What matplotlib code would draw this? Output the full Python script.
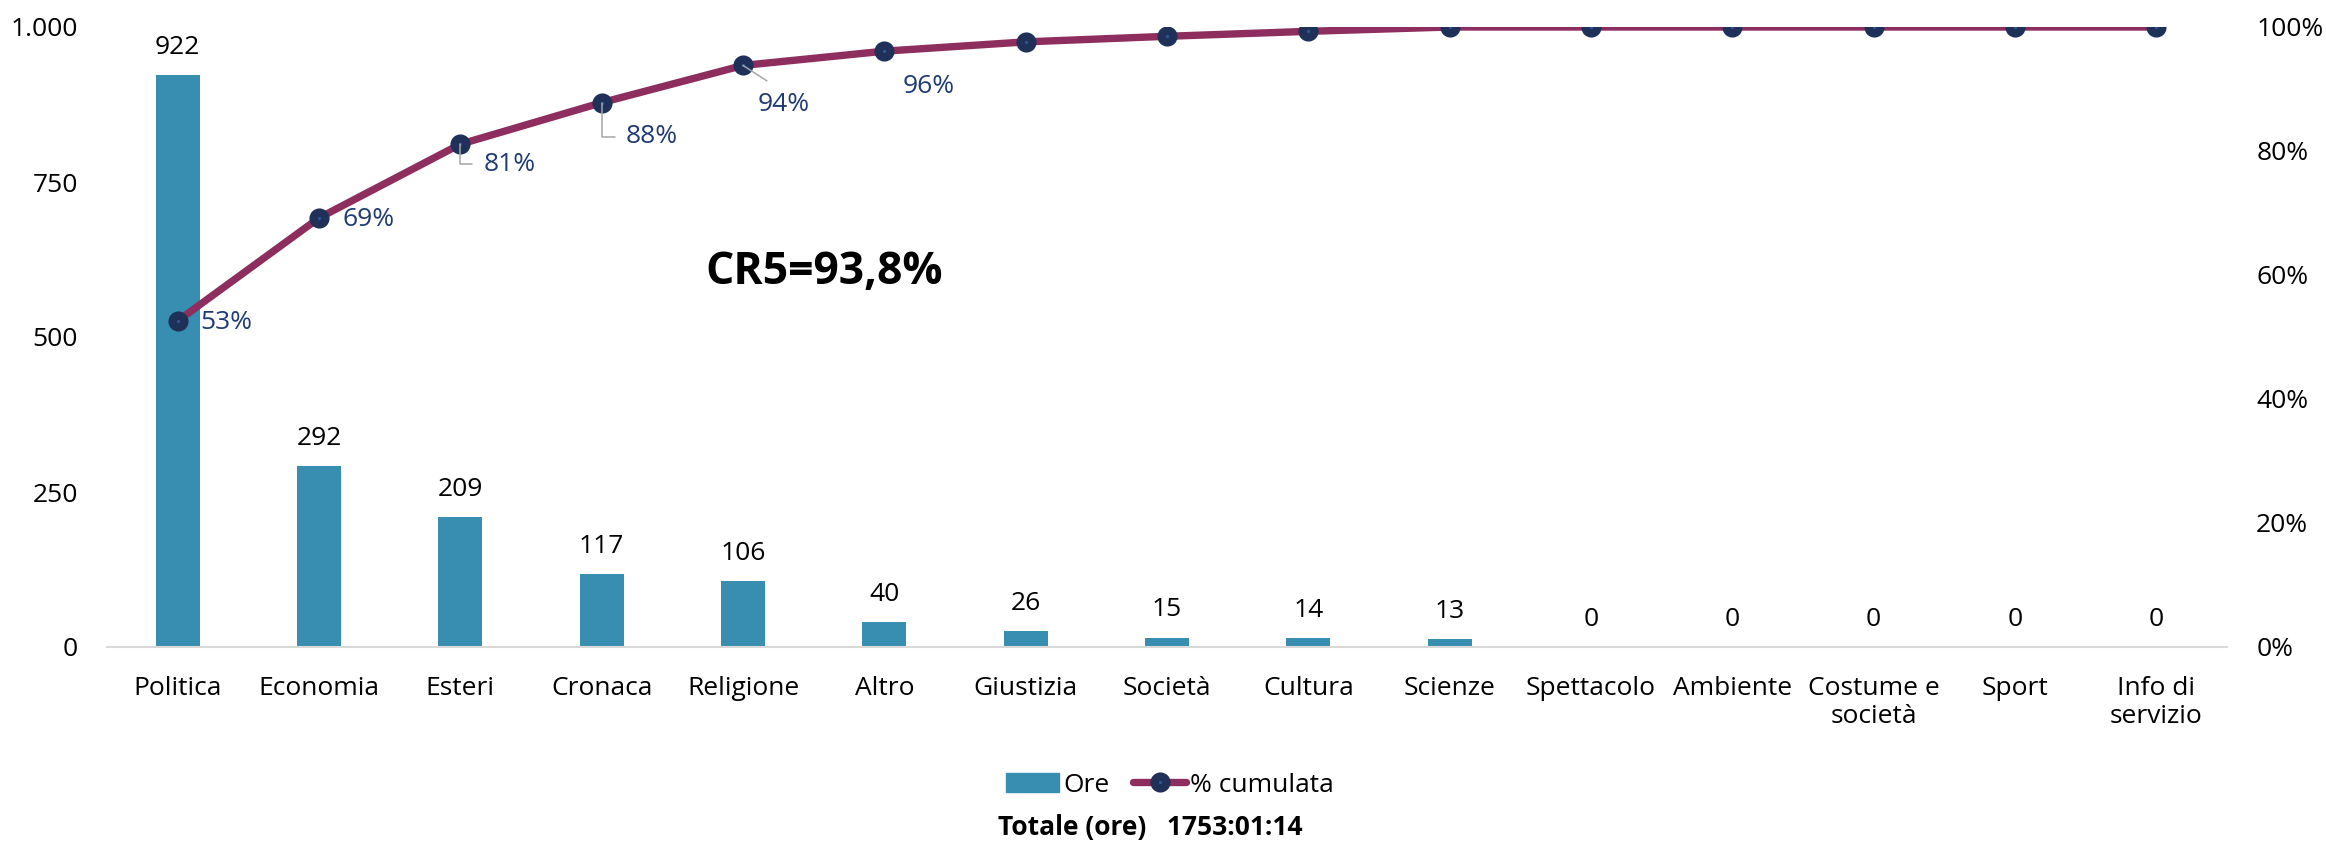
import matplotlib.pyplot as plt
from matplotlib.lines import Line2D
from matplotlib.patches import Patch
from matplotlib.ticker import FuncFormatter, MultipleLocator

plt.rcParams['font.family'] = ['Open Sans', 'DejaVu Sans']

categorie = ["Politica", "Economia", "Esteri", "Cronaca", "Religione", "Altro",
             "Giustizia", "Società", "Cultura", "Scienze", "Spettacolo",
             "Ambiente", "Costume e\nsocietà", "Sport", "Info di\nservizio"]
ore = [922, 292, 209, 117, 106, 40, 26, 15, 14, 13, 0, 0, 0, 0, 0]
cumulata = [0.526, 0.692, 0.811, 0.878, 0.938, 0.961, 0.976, 0.985, 0.993,
            1.0, 1.0, 1.0, 1.0, 1.0, 1.0]
etichette_pct = ["53%", "69%", "81%", "88%", "94%", "96%"]

col_bar = "#388EB0"
col_line = "#8E2E5E"
col_mark = "#1F3158"
col_lab = "#1F3B73"
fs = 19

fig = plt.figure(figsize=(23.26, 8.43), dpi=100)
ax = fig.add_axes([107 / 2326, 1 - 647 / 843, 2120 / 2326, 620 / 843])
ax2 = ax.twinx()

x = list(range(len(categorie)))
ax.bar(x, ore, width=0.31, color=col_bar, zorder=2)
for xi, v in zip(x, ore):
    ax.annotate(str(v), (xi, v), xytext=(0, 20), textcoords="offset points",
                ha="center", va="center", fontsize=fs, color="black")

ax.set_xlim(-0.5, 14.5)
ax.set_ylim(0, 1000)
ax.yaxis.set_major_locator(MultipleLocator(250))
ax.yaxis.set_major_formatter(FuncFormatter(lambda v, p: f"{int(v):,}".replace(",", ".")))
ax.set_xticks(x)
ax.set_xticklabels(categorie, fontsize=fs, linespacing=1.15)
ax.tick_params(axis="x", length=0, pad=21)
ax.tick_params(axis="y", length=0, pad=21, labelsize=fs)
for s in ["top", "right", "left"]:
    ax.spines[s].set_visible(False)
ax.spines["bottom"].set_color("#D9D9D9")
ax.spines["bottom"].set_linewidth(1.5)

ax2.plot(x, cumulata, color=col_line, lw=5.3, marker="o", ms=8.5, mew=6,
         mfc="#2F5597", mec=col_mark, zorder=3, solid_joinstyle="round")
ax2.set_ylim(0, 1)
ax2.yaxis.set_major_locator(MultipleLocator(0.2))
ax2.yaxis.set_major_formatter(FuncFormatter(lambda v, p: f"{v * 100:.0f}%"))
ax2.tick_params(axis="y", length=0, pad=21, labelsize=fs)
for s in ["top", "right", "left", "bottom"]:
    ax2.spines[s].set_visible(False)

# etichette percentuali (offset in pixel -> punti)
k = 72 / 100
lead = dict(arrowstyle="-", color="#A6A6A6", lw=1.1)
ax2.annotate(etichette_pct[0], (0, cumulata[0]), xytext=(23 * k, -2 * k),
             textcoords="offset points", ha="left", va="center", fontsize=fs, color=col_lab)
ax2.annotate(etichette_pct[1], (1, cumulata[1]), xytext=(24 * k, -2 * k),
             textcoords="offset points", ha="left", va="center", fontsize=fs, color=col_lab)
for i, dx, dy in [(2, 23, -20), (3, 24, -34)]:
    ax2.annotate(etichette_pct[i], (i, cumulata[i]), xytext=(dx * k, dy * k),
                 textcoords="offset points", ha="left", va="center", fontsize=fs,
                 color=col_lab, zorder=4,
                 arrowprops=dict(lead, connectionstyle="angle,angleA=0,angleB=90,rad=0",
                                 relpos=(0, 0.5), shrinkA=6, shrinkB=0))
ax2.annotate(etichette_pct[4], (4, cumulata[4]), xytext=(41 * k, -39 * k),
             textcoords="offset points", ha="center", va="center", fontsize=fs,
             color=col_lab, zorder=4,
             arrowprops=dict(lead, relpos=(0.5, 1), shrinkA=11, shrinkB=0))
ax2.annotate(etichette_pct[5], (5, cumulata[5]), xytext=(18 * k, -35 * k),
             textcoords="offset points", ha="left", va="center", fontsize=fs, color=col_lab)

fig.text(824 / 2326, 1 - 272 / 843, "CR5=93,8%", fontsize=32, fontweight="bold",
         ha="center", va="center")

handles = [Patch(color=col_bar),
           Line2D([], [], color=col_line, lw=5.3, marker="o", ms=8.5, mew=6,
                  mfc="#2F5597", mec=col_mark, solid_capstyle="round")]
fig.legend(handles, ["Ore", "% cumulata"], loc="center", ncol=2, frameon=False,
           bbox_to_anchor=(1170 / 2326, 1 - 785 / 843), fontsize=fs,
           handlelength=2.0, handletextpad=0.15, columnspacing=0.9)

fig.text(1150 / 2326, 1 - 827 / 843, "Totale (ore)   1753:01:14", fontsize=fs,
         fontweight="bold", ha="center", va="center")

fig.savefig("out.png", dpi=100)
